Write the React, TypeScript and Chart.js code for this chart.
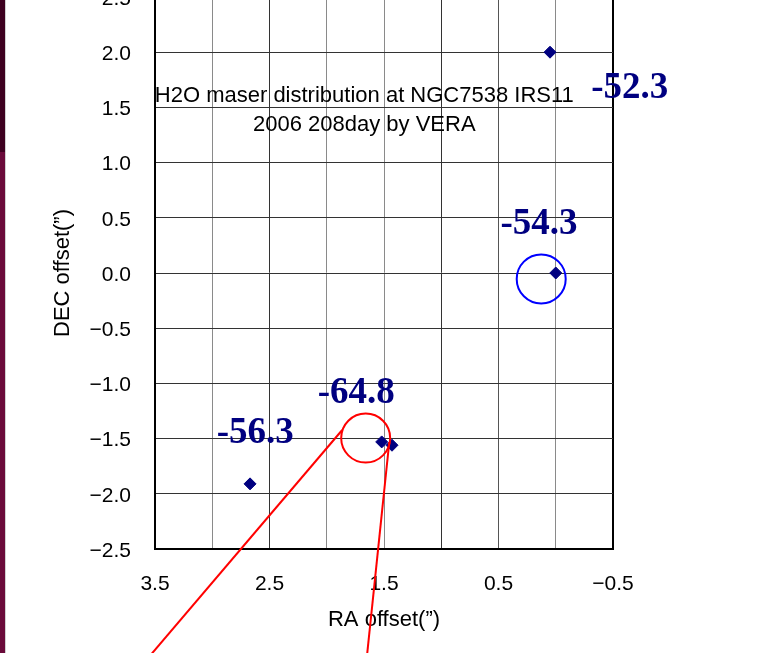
import { useEffect, useRef } from "react";
import { Chart, registerables } from "chart.js";

Chart.register(...registerables);

// Maser spot offsets (arcsec)
const raOffsets = [0.05, 0.0, 1.52, 1.43, 2.67];
const decOffsets = [2.0, 0.0, -1.53, -1.56, -1.91];

// Velocity annotations (km/s) and where they sit, in offset coordinates
const velocityLabels = ["-52.3", "-54.3", "-64.8", "-56.3"];
const velocityRA = [-0.646, 0.147, 1.742, 2.624];
const velocityDec = [1.67, 0.442, -1.093, -1.451];

// Title block drawn inside the plot
const titleLines = ["H2O maser distribution at NGC7538 IRS11", "2006 208day by VERA"];
const titleRA = 1.672;
const titleDec = [1.60, 1.34];

// Highlight circles
const circleRA = [0.127, 1.66];
const circleDec = [-0.054, -1.495];
const circleRadius = [0.214, 0.214];
const circleColors = ["#0000ff", "#ff0000"];

// Leader lines from the red circle
const leaderStartRA = [1.865, 1.454];
const leaderStartDec = [-1.422, -1.531];
const leaderEndRA = [3.653, 1.662];
const leaderEndDec = [-3.6, -3.6];

// Vertical grid tone per RA value
const gridRA = [3.0, 2.5, 2.0, 1.5, 1.0, 0.5, 0.0, -0.5];
const gridTone = ["#8a8a8a", "#333333", "#8a8a8a", "#8a8a8a", "#333333", "#555555", "#8a8a8a", "#000000"];

const SANS = "'Liberation Sans', Arial, sans-serif";
const SERIF = "'Liberation Serif', 'Times New Roman', serif";

const fmt = (v: number) => {
  const s = Math.abs(v).toFixed(1);
  return v < -1e-9 ? "\u2212" + s : s;
};

const annotations = {
  id: "maserAnnotations",
  afterDraw(chart: any) {
    const { ctx } = chart;
    const xs = chart.scales.x;
    const ys = chart.scales.y;
    const px = (v: number) => xs.getPixelForValue(v);
    const py = (v: number) => ys.getPixelForValue(v);
    ctx.save();

    // title
    ctx.fillStyle = "#000";
    ctx.font = `22px ${SANS}`;
    ctx.textAlign = "center";
    ctx.textBaseline = "middle";
    titleLines.forEach((t, i) => ctx.fillText(t, px(titleRA), py(titleDec[i])));

    // circles
    ctx.lineWidth = 2;
    circleRA.forEach((cx, i) => {
      const r = Math.abs(px(cx + circleRadius[i]) - px(cx));
      ctx.strokeStyle = circleColors[i];
      ctx.beginPath();
      ctx.arc(px(cx), py(circleDec[i]), r, 0, Math.PI * 2);
      ctx.stroke();
    });

    // leader lines
    ctx.strokeStyle = "#ff0000";
    leaderStartRA.forEach((sx, i) => {
      ctx.beginPath();
      ctx.moveTo(px(sx), py(leaderStartDec[i]));
      ctx.lineTo(px(leaderEndRA[i]), py(leaderEndDec[i]));
      ctx.stroke();
    });

    // velocity labels
    ctx.fillStyle = "#000080";
    ctx.font = `bold 37px ${SERIF}`;
    velocityLabels.forEach((t, i) => ctx.fillText(t, px(velocityRA[i]), py(velocityDec[i])));

    ctx.restore();
  },
};

export default function App() {
  const ref = useRef<HTMLCanvasElement>(null);

  useEffect(() => {
    if (!ref.current) return;
    const chart = new Chart(ref.current, {
      type: "scatter",
      data: {
        datasets: [
          {
            data: raOffsets.map((x, i) => ({ x, y: decOffsets[i] })),
            pointStyle: "rectRot",
            pointRadius: 6,
            backgroundColor: "#000080",
            borderColor: "#000080",
            borderWidth: 1,
          },
        ],
      },
      options: {
        responsive: false,
        animation: false,
        devicePixelRatio: 1,
        layout: { padding: { top: 37, right: 164, left: 0, bottom: 0 } },
        plugins: { legend: { display: false }, tooltip: { enabled: false }, title: { display: false } },
        scales: {
          x: {
            type: "linear",
            reverse: true,
            min: -0.5,
            max: 3.5,
            afterFit: (s: any) => {
              s.height = 104;
            },
            ticks: {
              stepSize: 0.5,
              padding: 23,
              color: "#000",
              font: { family: SANS, size: 21 },
              maxRotation: 0,
              autoSkip: false,
              callback: (v: any) => (Math.abs(Math.round(Number(v) * 2)) % 2 === 1 ? fmt(Number(v)) : ""),
            },
            grid: {
              drawTicks: false,
              color: (c: any) => {
                const i = gridRA.findIndex((g) => Math.abs(g - c.tick.value) < 1e-6);
                return i >= 0 ? gridTone[i] : "#000";
              },
              lineWidth: (c: any) => (Math.abs(c.tick.value + 0.5) < 1e-6 ? 2 : 1),
            },
            border: { color: "#000", width: 2 },
            title: {
              display: true,
              text: "RA offset(\u201D)",
              color: "#000",
              font: { family: SANS, size: 22 },
              padding: { top: 0, bottom: 20 },
            },
          },
          y: {
            type: "linear",
            min: -2.5,
            max: 2.5,
            afterFit: (s: any) => {
              s.width = 155;
            },
            ticks: {
              stepSize: 0.5,
              padding: 24,
              labelOffset: 2,
              color: "#000",
              font: { family: SANS, size: 21 },
              callback: (v: any) => fmt(Number(v)),
            },
            grid: { drawTicks: false, color: "#333333", lineWidth: 1 },
            border: { color: "#000", width: 2 },
            title: {
              display: true,
              text: "DEC offset(\u201D)",
              color: "#000",
              font: { family: SANS, size: 22 },
              padding: { top: 50, bottom: 0 },
            },
          },
        },
      },
      plugins: [annotations],
    });
    return () => chart.destroy();
  }, []);

  return (
    <div
      style={{
        position: "fixed",
        left: 0,
        top: 0,
        width: 777,
        height: 653,
        overflow: "hidden",
        background: "#fff",
      }}
    >
      <canvas
        ref={ref}
        width={777}
        height={693}
        style={{ position: "absolute", left: 0, top: -40, width: 777, height: 693 }}
      />
      <div style={{ position: "absolute", left: 0, top: 0, width: 5, height: 152, background: "#3e0020" }} />
      <div style={{ position: "absolute", left: 0, top: 152, width: 5, height: 501, background: "#6a0a3a" }} />
      <div style={{ position: "absolute", left: 5, top: 0, width: 1, height: 653, background: "#d0d0d0" }} />
    </div>
  );
}
